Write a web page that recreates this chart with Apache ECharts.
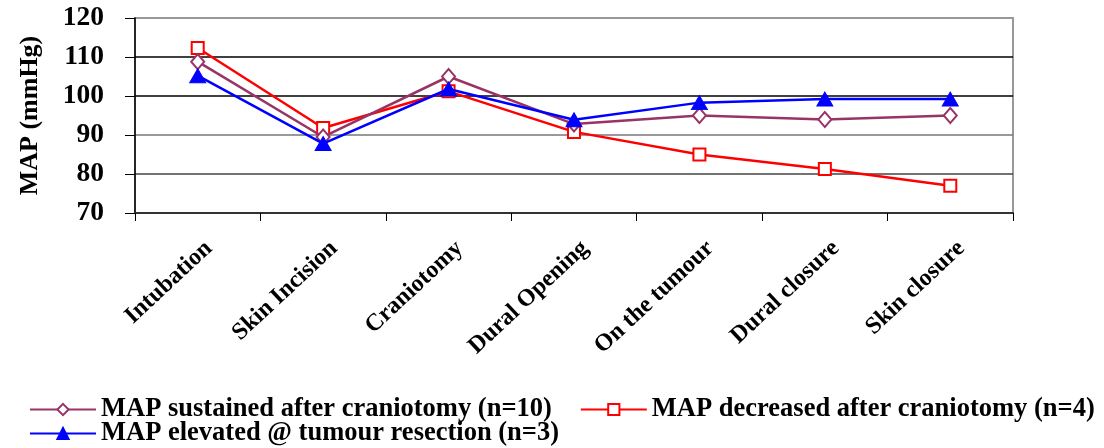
<!DOCTYPE html>
<html>
<head>
<meta charset="utf-8">
<script src="https://cdn.jsdelivr.net/npm/echarts@6/dist/echarts.min.js"></script>
<style>html,body{margin:0;padding:0;background:#fff;}#c{width:1104px;height:448px;}</style>
</head>
<body>
<div id="c"></div>
<script>
const categories = ['Intubation','Skin Incision','Craniotomy','Dural Opening','On the tumour','Dural closure','Skin closure'];
const sustained = [108.8, 89.5, 105, 92.8, 95, 94, 95];
const decreased = [112.3, 91.8, 101.2, 90.8, 85, 81.3, 77];
const elevated = [105.2, 87.8, 101.8, 93.9, 98.3, 99.2, 99.2];
const seriesNames = ['MAP sustained after craniotomy (n=10)','MAP decreased after craniotomy (n=4)','MAP elevated @ tumour resection (n=3)'];
const yTicks = {min:70, max:120, interval:10};

const font = 'Liberation Serif';
const legendText = {fontFamily:font, fontWeight:'bold', fontSize:26.5, color:'#000'};
const chart = echarts.init(document.getElementById('c'));
chart.setOption({
  animation:false,
  backgroundColor:'#fff',
  grid:[
    {left:135, right:91, top:18, bottom:235, show:true, borderColor:'#999', borderWidth:2},
    {left:146, right:80, top:18, bottom:235, show:false}
  ],
  legend:[
    {data:[seriesNames[0], seriesNames[1]], left:24, top:391, itemWidth:66, itemHeight:14, itemGap:28, textStyle:legendText},
    {data:[seriesNames[2]], left:24, top:415, itemWidth:66, itemHeight:14, textStyle:legendText}
  ],
  xAxis:[
    {type:'category', data:categories, boundaryGap:true, gridIndex:0,
      axisLine:{lineStyle:{color:'#333', width:2}},
      axisTick:{show:true, inside:false, length:8, lineStyle:{color:'#000'}},
      axisLabel:{show:false}
    },
    {type:'category', data:categories, boundaryGap:true, gridIndex:1,
      axisLine:{show:false}, axisTick:{show:false},
      axisLabel:{rotate:43, margin:32, color:'#000', fontFamily:font, fontWeight:'bold', fontSize:24, interval:0}
    }
  ],
  yAxis:[
    {type:'value', min:yTicks.min, max:yTicks.max, interval:yTicks.interval, gridIndex:0,
      name:'MAP (mmHg)', nameLocation:'middle', nameGap:92, nameRotate:90,
      nameTextStyle:{fontFamily:font, fontWeight:'bold', fontSize:26, color:'#000'},
      axisLine:{show:true, lineStyle:{color:'#000', width:1.5}},
      axisTick:{show:true, length:10, lineStyle:{color:'#000'}},
      axisLabel:{color:'#000', fontFamily:font, fontWeight:'bold', fontSize:27.5, margin:31},
      splitLine:{show:true, lineStyle:{color:['#555','#444','#777','#000','#000','#999'], width:1.5}}
    },
    {type:'value', min:yTicks.min, max:yTicks.max, gridIndex:1, show:false}
  ],
  series:[
    {name:seriesNames[0], type:'line', data:sustained, symbol:'diamond', symbolSize:[13,15],
      lineStyle:{color:'#993366', width:2.5}, itemStyle:{color:'#fff', borderColor:'#993366', borderWidth:2}, z:3},
    {name:seriesNames[1], type:'line', data:decreased, symbol:'rect', symbolSize:12,
      lineStyle:{color:'#ff0000', width:2.5}, itemStyle:{color:'#fff', borderColor:'#ff0000', borderWidth:2}, z:2},
    {name:seriesNames[2], type:'line', data:elevated, symbol:'triangle', symbolSize:[16,14],
      lineStyle:{color:'#0000ff', width:2.5}, itemStyle:{color:'#0000ff', borderColor:'#0000ff', borderWidth:1}, z:4}
  ]
});
</script>
</body>
</html>
